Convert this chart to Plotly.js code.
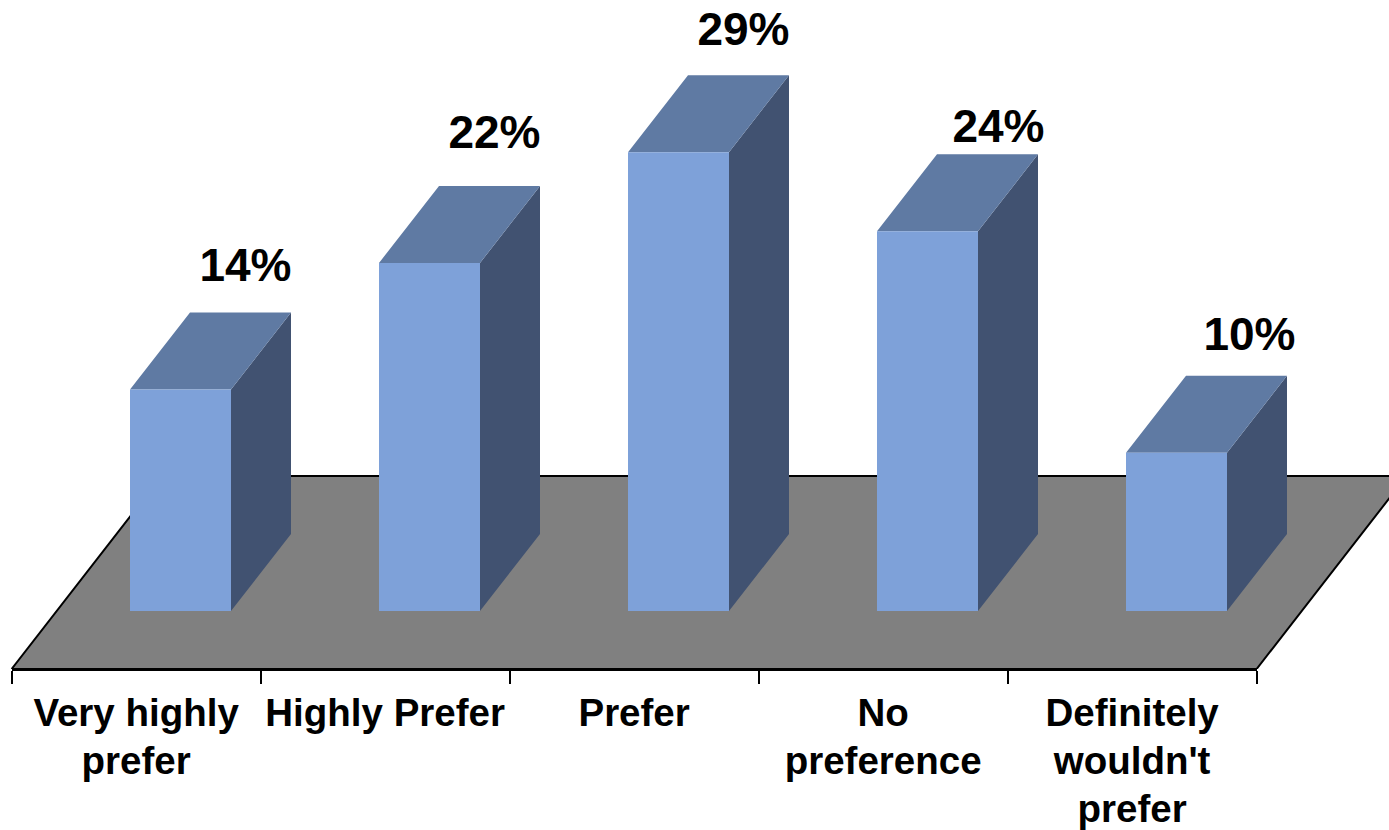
<!DOCTYPE html>
<html>
<head>
<meta charset="utf-8">
<script src="https://cdn.plot.ly/plotly-3.0.1.min.js"></script>
<style>html,body{margin:0;padding:0;background:#fff}#chart{width:1389px;height:830px}</style>
</head>
<body>
<div id="chart"></div>
<script>
// Survey results
const categories = ["Very highly<br>prefer", "Highly Prefer", "Prefer", "No<br>preference", "Definitely<br>wouldn't<br>prefer"];
const shares = [14, 22, 29, 24, 10];

// Canvas scale: one category slot wide, one percentage point tall
const W = 1389, H = 830;
const slotPx = 249, pointPx = 15.82;
const axisLeftPx = 11.6, axisBottomPx = 669, zeroPx = 611;
const axisRightPx = axisLeftPx + slotPx * categories.length;
const tickLineSpacingPx = 48;

// Oblique projection of the depth direction, in data units
const depthX = 60 / slotPx, depthY = 77 / pointPx;
const floorDepthX = 150 / slotPx;
const floorFrontY = (zeroPx - axisBottomPx) / pointPx;
const floorBackY = (zeroPx - 476) / pointPx;
const barWidth = 101 / slotPx;
const barShift = 44.4 / slotPx;

// Value labels sit up and to the right of each column, nudged individually
const labelDX = 65 / slotPx, labelDY = 45 / pointPx;
const labelNudgeXPx = [0, 0, 0, 6, 8];
const labelNudgeYPx = [-2, 4, -3, -21, -8];

const centers = shares.map((_, i) => i + 0.5);
const barLeft = i => centers[i] + barShift - barWidth / 2;
const barRight = i => centers[i] + barShift + barWidth / 2;

// Concatenate one closed polygon per bar, separated by gaps
function facePolygons(corners) {
  const xs = [], ys = [];
  shares.forEach((v, i) => {
    corners(v, i).forEach(p => { xs.push(p[0]); ys.push(p[1]); });
    xs.push(null); ys.push(null);
  });
  return {x: xs, y: ys};
}
const sideFaces = facePolygons((v, i) => [
  [barRight(i), 0], [barRight(i) + depthX, depthY],
  [barRight(i) + depthX, v + depthY], [barRight(i), v], [barRight(i), 0]
]);
const topFaces = facePolygons((v, i) => [
  [barLeft(i), v], [barRight(i), v],
  [barRight(i) + depthX, v + depthY], [barLeft(i) + depthX, v + depthY], [barLeft(i), v]
]);

const noHover = {hoverinfo: "skip", showlegend: false};
const traces = [
  // Floor plane
  Object.assign({
    type: "scatter", mode: "lines", fill: "toself", fillcolor: "#808080",
    x: [0, categories.length, categories.length + floorDepthX, floorDepthX, 0],
    y: [floorFrontY, floorFrontY, floorBackY, floorBackY, floorFrontY],
    line: {color: "#000", width: 2}
  }, noHover),
  // Right-hand faces
  Object.assign({
    type: "scatter", mode: "lines", fill: "toself", fillcolor: "#415271",
    x: sideFaces.x, y: sideFaces.y, line: {width: 0, color: "#415271"}
  }, noHover),
  // Top faces
  Object.assign({
    type: "scatter", mode: "lines", fill: "toself", fillcolor: "#5F7AA3",
    x: topFaces.x, y: topFaces.y, line: {width: 0, color: "#5F7AA3"}
  }, noHover),
  // Value labels
  Object.assign({
    type: "scatter", mode: "text",
    x: centers.map((c, i) => c + barShift + labelDX + labelNudgeXPx[i] / slotPx),
    y: shares.map((v, i) => v + depthY + labelDY + labelNudgeYPx[i] / pointPx),
    text: shares.map(v => v + "%"),
    textposition: "middle center",
    textfont: {family: "Liberation Sans, Arial, sans-serif", size: 46, color: "#000", weight: 700},
    cliponaxis: false
  }, noHover),
  // Front faces
  Object.assign({
    type: "bar", xaxis: "x2", yaxis: "y",
    x: centers.map(c => c + barShift), y: shares, width: barWidth,
    marker: {color: "#7EA1D9", line: {width: 0}}
  }, noHover)
];

const layout = {
  width: W, height: H,
  margin: {l: 0, r: 0, t: 0, b: H - axisBottomPx, pad: 0},
  paper_bgcolor: "#fff", plot_bgcolor: "rgba(0,0,0,0)",
  showlegend: false, hovermode: false, barmode: "overlay",
  font: {family: "Liberation Sans, Arial, sans-serif", color: "#000"},
  xaxis: {
    domain: [0, 1], visible: false, fixedrange: true,
    range: [-axisLeftPx / slotPx, (W - axisLeftPx) / slotPx]
  },
  xaxis2: {
    domain: [axisLeftPx / W, axisRightPx / W], anchor: "y",
    range: [0, categories.length], fixedrange: true,
    showgrid: false, zeroline: false,
    showline: true, linecolor: "#000", linewidth: 2,
    tickmode: "array", tickvals: centers, ticktext: categories,
    ticks: "", ticklabelstandoff: 9, tickangle: 0,
    tickfont: {family: "Liberation Sans, Arial, sans-serif", size: 38.5, color: "#000", weight: 700},
    minor: {tickmode: "linear", tick0: 0, dtick: 1, ticks: "outside", ticklen: 13, tickwidth: 2, tickcolor: "#000", showgrid: false}
  },
  yaxis: {
    domain: [0, 1], visible: false, fixedrange: true,
    range: [(zeroPx - axisBottomPx) / pointPx, zeroPx / pointPx]
  }
};

Plotly.newPlot("chart", traces, layout, {staticPlot: true, displayModeBar: false}).then(gd => {
  // Tighten the leading of the wrapped category labels
  gd.querySelectorAll("g.x2tick text").forEach(label => {
    label.querySelectorAll("tspan.line").forEach((line, i) => {
      line.setAttribute("dy", (i * tickLineSpacingPx) + "px");
    });
  });
});
</script>
</body>
</html>
